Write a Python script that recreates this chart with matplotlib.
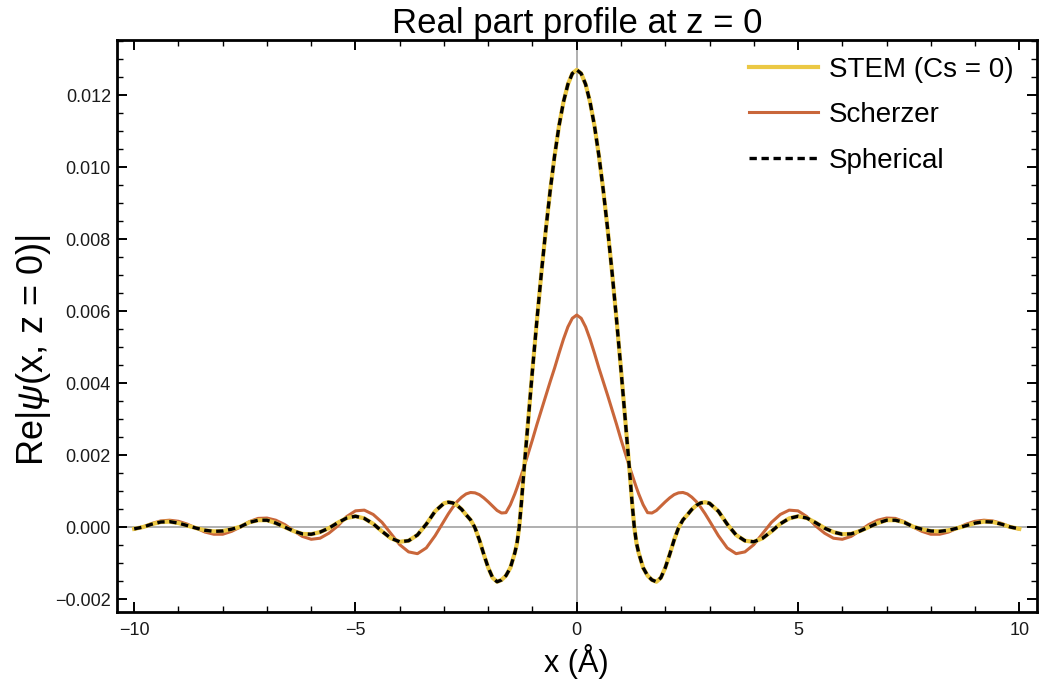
import matplotlib
matplotlib.use("Agg")
import matplotlib.pyplot as plt
from matplotlib.ticker import MultipleLocator, FuncFormatter

x = [-10.0, -9.8, -9.6, -9.4, -9.2, -9.0, -8.8, -8.6, -8.4, -8.2, -8.0, -7.8, -7.6, -7.4, -7.2,
     -7.0, -6.8, -6.6, -6.4, -6.2, -6.0, -5.8, -5.6, -5.4, -5.2, -5.0, -4.8, -4.6, -4.4, -4.2,
     -4.0, -3.8, -3.6, -3.4, -3.2,
     -3.0, -2.9, -2.8, -2.7, -2.6, -2.5, -2.4, -2.3, -2.2, -2.1, -2.0, -1.9, -1.8, -1.7, -1.6,
     -1.5, -1.4, -1.35, -1.3, -1.25, -1.2, -1.1, -1.0, -0.9, -0.8, -0.7, -0.6, -0.5, -0.4, -0.3,
     -0.2, -0.1,
     0.0,
     0.1, 0.2, 0.3, 0.4, 0.5, 0.6, 0.7, 0.8, 0.9, 1.0, 1.1, 1.2, 1.25, 1.3, 1.35,
     1.4, 1.5, 1.6, 1.7, 1.8, 1.9, 2.0, 2.1, 2.2, 2.3, 2.4, 2.5, 2.6, 2.7, 2.8, 2.9, 3.0,
     3.2, 3.4, 3.6, 3.8, 4.0, 4.2, 4.4, 4.6, 4.8, 5.0, 5.2, 5.4, 5.6, 5.8, 6.0,
     6.2, 6.4, 6.6, 6.8, 7.0, 7.2, 7.4, 7.6, 7.8, 8.0, 8.2, 8.4, 8.6, 8.8, 9.0,
     9.2, 9.4, 9.6, 9.8, 10.0]

stem = [-0.00005, 0.00000, 0.00008, 0.00014, 0.00015, 0.00011, 0.00004, -0.00003, -0.00009, -0.00012,
        -0.00011, -0.00006, 0.00001, 0.00013, 0.00019, 0.00019, 0.00011, 0.00000, -0.00011, -0.00019,
        -0.00020, -0.00014, -0.00003, 0.00012, 0.00025, 0.00030, 0.00024, 0.00009, -0.00012, -0.00031,
        -0.00041, -0.00038, -0.00022, 0.00008, 0.00044,
        0.00066, 0.00069, 0.00067, 0.00060, 0.00049, 0.00034, 0.00020, -0.00002, -0.00036, -0.00076,
        -0.00113, -0.00141, -0.00152, -0.00147, -0.00135, -0.00113, -0.00072, -0.00045, 0.00000, 0.00068,
        0.00147, 0.00292, 0.00437, 0.00575, 0.00705, 0.00825, 0.00935, 0.01032, 0.01115, 0.01181,
        0.01230, 0.01260,
        0.01270,
        0.01260, 0.01230, 0.01181, 0.01115, 0.01032, 0.00935, 0.00825, 0.00705, 0.00575, 0.00437,
        0.00292, 0.00147, 0.00068, 0.00000, -0.00045, -0.00072, -0.00113, -0.00135, -0.00147, -0.00152,
        -0.00141, -0.00113, -0.00076, -0.00036, -0.00002, 0.00020, 0.00034, 0.00049, 0.00060, 0.00067,
        0.00069, 0.00066,
        0.00044, 0.00008, -0.00022, -0.00038, -0.00041, -0.00031, -0.00012, 0.00009, 0.00024, 0.00030,
        0.00025, 0.00012, -0.00003, -0.00014, -0.00020, -0.00019, -0.00011, 0.00000, 0.00011, 0.00019,
        0.00019, 0.00013, 0.00001, -0.00006, -0.00011, -0.00012, -0.00009, -0.00003, 0.00004, 0.00011,
        0.00015, 0.00014, 0.00008, 0.00000, -0.00005]

scherzer = [-0.00006, 0.00000, 0.00010, 0.00017, 0.00019, 0.00016, 0.00008, -0.00003, -0.00014, -0.00020,
            -0.00020, -0.00012, 0.00000, 0.00015, 0.00024, 0.00025, 0.00019, 0.00007, -0.00010, -0.00026,
            -0.00034, -0.00031, -0.00017, 0.00003, 0.00029, 0.00045, 0.00047, 0.00035, 0.00013, -0.00018,
            -0.00049, -0.00069, -0.00074, -0.00058, -0.00024,
            0.00017, 0.00037, 0.00055, 0.00071, 0.00083, 0.00092, 0.00096, 0.00095, 0.00090, 0.00081,
            0.00070, 0.00058, 0.00046, 0.00039, 0.00040, 0.00062, 0.00092, 0.00109, 0.00127, 0.00145,
            0.00164, 0.00203, 0.00243, 0.00285, 0.00325, 0.00365, 0.00404, 0.00442, 0.00483, 0.00522,
            0.00556, 0.00580,
            0.00589,
            0.00580, 0.00556, 0.00522, 0.00483, 0.00442, 0.00404, 0.00365, 0.00325, 0.00285, 0.00243,
            0.00203, 0.00164, 0.00145, 0.00127, 0.00109, 0.00092, 0.00062, 0.00040, 0.00039, 0.00046,
            0.00058, 0.00070, 0.00081, 0.00090, 0.00095, 0.00096, 0.00092, 0.00083, 0.00071, 0.00055,
            0.00037, 0.00017,
            -0.00024, -0.00058, -0.00074, -0.00069, -0.00049, -0.00018, 0.00013, 0.00035, 0.00047, 0.00045,
            0.00029, 0.00003, -0.00017, -0.00031, -0.00034, -0.00026, -0.00010, 0.00007, 0.00019, 0.00025,
            0.00024, 0.00015, 0.00000, -0.00012, -0.00020, -0.00020, -0.00014, -0.00003, 0.00008, 0.00016,
            0.00019, 0.00017, 0.00010, 0.00000, -0.00006]

spherical = list(stem)

labels = ["STEM (Cs = 0)", "Scherzer", "Spherical"]
title = "Real part profile at z = 0"
xlabel = "x (Å)"
ylabel = "Re|$\\psi$(x, z = 0)|"

plt.rcParams['font.family'] = ['Liberation Sans', 'DejaVu Sans']
plt.rcParams['mathtext.fontset'] = 'custom'
plt.rcParams['mathtext.it'] = 'Liberation Sans:italic'
plt.rcParams['mathtext.rm'] = 'Liberation Sans'

W, H = 1041, 688
fig = plt.figure(figsize=(W / 100, H / 100), dpi=100)
L, R, T, B = 116.5, 1037, 40, 612
ax = fig.add_axes([L / W, 1 - B / H, (R - L) / W, (B - T) / H])

ax.axhline(0, color='#9a9a9a', lw=1.1, zorder=1)
ax.axvline(0, color='#9a9a9a', lw=1.1, zorder=1)

ax.plot(x, stem, color='#EBC844', lw=3.0, label=labels[0], zorder=3)
ax.plot(x, scherzer, color='#C9663A', lw=2.2, label=labels[1], zorder=2)
ax.plot(x, spherical, color='black', lw=2.4, ls=(0, (2.2, 1.4)), label=labels[2], zorder=4)

ax.set_xlim(-10.4, 10.4)
ax.set_ylim(-0.00236, 0.01353)

ax.xaxis.set_major_locator(MultipleLocator(5))
ax.xaxis.set_minor_locator(MultipleLocator(1))
ax.yaxis.set_major_locator(MultipleLocator(0.002))
ax.yaxis.set_minor_locator(MultipleLocator(0.0005))
ax.yaxis.set_major_formatter(FuncFormatter(
    lambda v, p: ("%.3f" % v).replace('-', '\u2212') if abs(v) > 1e-12 else "0.000"))
ax.xaxis.set_major_formatter(FuncFormatter(
    lambda v, p: ("%d" % round(v)).replace('-', '\u2212')))

ax.tick_params(which='both', direction='in', top=True, right=True, color='black',
               labelsize=13, labelcolor='#1a1a1a')
ax.tick_params(which='major', length=7, width=1.4)
ax.tick_params(axis='y', which='major', pad=4)
ax.tick_params(axis='x', which='major', pad=7)
ax.tick_params(which='minor', length=4, width=1.0)

for s in ax.spines.values():
    s.set_linewidth(2.0)
    s.set_color('black')

ax.set_title(title, fontsize=25, pad=4)
ax.set_xlabel(xlabel, fontsize=22, labelpad=4)
ax.set_ylabel(ylabel, fontsize=26)
ax.yaxis.set_label_coords(-0.069, 0.458)

leg = ax.legend(loc='upper right', frameon=False, fontsize=20, handlelength=2.5,
                handletextpad=0.4, labelspacing=0.70, borderaxespad=0.2,
                bbox_to_anchor=(0.993, 1.0))

fig.savefig("out.png", dpi=100)
